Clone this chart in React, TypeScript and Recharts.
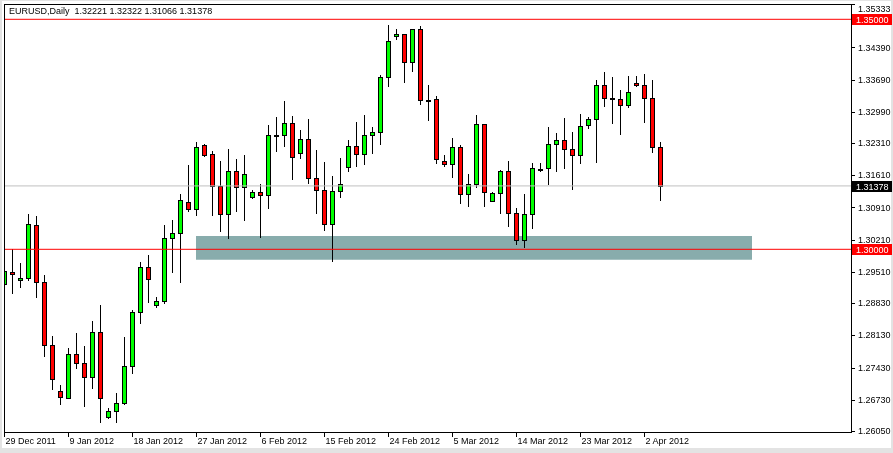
import React from 'react';
import { ComposedChart, Bar, XAxis, YAxis, ReferenceLine, ReferenceArea } from 'recharts';

const symbol = 'EURUSD,Daily';

// daily bars, 29 Dec 2011 .. 4 Apr 2012 (broker has Sunday bars)
const opens = [
  1.2924, 1.2951, 1.2933, 1.2937, 1.3052, 1.2930, 1.2791, 1.2693, 1.2677, 1.2772,
  1.2752, 1.2722, 1.2820, 1.2635, 1.2648, 1.2665, 1.2746, 1.2863, 1.2961, 1.2879,
  1.2887, 1.3024, 1.3035, 1.3103, 1.3087, 1.3226, 1.3207, 1.3137, 1.3076, 1.3170,
  1.3135, 1.3113, 1.3124, 1.3117, 1.3247, 1.3248, 1.3274, 1.3209, 1.3239, 1.3154,
  1.3128, 1.3054, 1.3126, 1.3180, 1.3224, 1.3207, 1.3248, 1.3254, 1.3374, 1.3463,
  1.3467, 1.3407, 1.3478, 1.3324, 1.3326, 1.3191, 1.3185, 1.3222, 1.3120, 1.3141,
  1.3272, 1.3104, 1.3122, 1.3170, 1.3078, 1.3020, 1.3076, 1.3173, 1.3176, 1.3228,
  1.3237, 1.3217, 1.3204, 1.3270, 1.3283, 1.3357, 1.3328, 1.3326, 1.3313, 1.3361,
  1.3357, 1.3328, 1.32221,
];
const highs = [
  1.2966, 1.3000, 1.2970, 1.3077, 1.3072, 1.2944, 1.2812, 1.2705, 1.2785, 1.2818,
  1.2790, 1.2844, 1.2879, 1.2655, 1.2688, 1.2809, 1.2867, 1.2972, 1.2988, 1.2896,
  1.3053, 1.3064, 1.3120, 1.3183, 1.3233, 1.3229, 1.3214, 1.3193, 1.3218, 1.3196,
  1.3205, 1.3130, 1.3141, 1.3270, 1.3288, 1.3322, 1.3289, 1.3259, 1.3283, 1.3215,
  1.3189, 1.3159, 1.3198, 1.3237, 1.3276, 1.3293, 1.3265, 1.3378, 1.3488, 1.3478,
  1.3468, 1.3479, 1.3485, 1.3357, 1.3333, 1.3204, 1.3241, 1.3227, 1.3164, 1.3292,
  1.3273, 1.3125, 1.3173, 1.3192, 1.3090, 1.3120, 1.3188, 1.3188, 1.3265, 1.3253,
  1.3285, 1.3255, 1.3295, 1.3287, 1.3367, 1.3385, 1.3374, 1.3346, 1.3377, 1.3377,
  1.3380, 1.3367, 1.32322,
];
const lows = [
  1.2857, 1.2904, 1.2917, 1.2934, 1.2897, 1.2769, 1.2697, 1.2664, 1.2676, 1.2743,
  1.2660, 1.2698, 1.2624, 1.2633, 1.2625, 1.2663, 1.2732, 1.2839, 1.2886, 1.2875,
  1.2883, 1.2951, 1.2930, 1.3084, 1.3075, 1.3203, 1.3075, 1.3040, 1.3025, 1.3083,
  1.3064, 1.3111, 1.3027, 1.3089, 1.3214, 1.3225, 1.3153, 1.3199, 1.3145, 1.3080,
  1.3043, 1.2974, 1.3114, 1.3171, 1.3182, 1.3186, 1.3210, 1.3230, 1.3356, 1.3457,
  1.3364, 1.3388, 1.3315, 1.3282, 1.3187, 1.3182, 1.3158, 1.3101, 1.3095, 1.3135,
  1.3095, 1.3104, 1.3078, 1.3051, 1.3011, 1.3004, 1.3047, 1.3171, 1.3141, 1.3171,
  1.3177, 1.3132, 1.3188, 1.3264, 1.3190, 1.3311, 1.3275, 1.3251, 1.3309, 1.3354,
  1.3277, 1.3212, 1.31066,
];
const closes = [
  1.2953, 1.2946, 1.2937, 1.3055, 1.2930, 1.2791, 1.2717, 1.2678, 1.2772, 1.2752,
  1.2722, 1.2820, 1.2676, 1.2648, 1.2665, 1.2746, 1.2863, 1.2961, 1.2935, 1.2888,
  1.3024, 1.3035, 1.3107, 1.3087, 1.3222, 1.3206, 1.3137, 1.3076, 1.3170, 1.3135,
  1.3163, 1.3124, 1.3117, 1.3248, 1.3249, 1.3274, 1.3201, 1.3239, 1.3154, 1.3128,
  1.3054, 1.3126, 1.3141, 1.3224, 1.3207, 1.3248, 1.3254, 1.3374, 1.3452, 1.3467,
  1.3407, 1.3478, 1.3324, 1.3325, 1.3196, 1.3185, 1.3222, 1.3120, 1.3141, 1.3272,
  1.3124, 1.3122, 1.3170, 1.3078, 1.3020, 1.3076, 1.3176, 1.3175, 1.3228, 1.3237,
  1.3217, 1.3204, 1.3267, 1.3283, 1.3357, 1.3328, 1.3326, 1.3313, 1.3343, 1.3357,
  1.3328, 1.3222, 1.31378,
];

const dateTickIdx = [0, 8, 16, 24, 32, 40, 48, 56, 64, 72, 80];
const dateTickLabels = [
  '29 Dec 2011', '9 Jan 2012', '18 Jan 2012', '27 Jan 2012', '6 Feb 2012', '15 Feb 2012',
  '24 Feb 2012', '5 Mar 2012', '14 Mar 2012', '23 Mar 2012', '2 Apr 2012',
];
const priceTicks = [
  1.35333, 1.3439, 1.3369, 1.3299, 1.3231, 1.3161, 1.3091, 1.3021, 1.2951, 1.2883,
  1.2813, 1.2743, 1.2673, 1.2605,
];
const levelPrices = [1.35, 1.3];
// support zone drawn on the chart (bar index span, price span)
const zoneBars = [23.875, 93.375];
const zonePrices = [1.29774, 1.30289];

const xDomain = [-0.125, 105.75];
const yDomain = [1.260283, 1.353326];

const FONT = '"Liberation Sans", Arial, sans-serif';

const candles = opens.map((o, i) => ({
  i,
  open: o,
  high: highs[i],
  low: lows[i],
  close: closes[i],
  range: [lows[i], highs[i]],
}));

const last = candles[candles.length - 1];
const headerText = `${symbol}  ${last.open.toFixed(5)} ${last.high.toFixed(5)} ${last.low.toFixed(5)} ${last.close.toFixed(5)}`;

function Candle(props: any) {
  const { x, y, width, height, payload } = props;
  if (x == null || y == null) return null;
  const top = Math.min(y, y + height);
  const h = Math.abs(height);
  const { open, close, high, low } = payload;
  const k = h / (high - low);
  const cx = Math.floor(x + width / 2);
  const yO = top + (high - open) * k;
  const yC = top + (high - close) * k;
  const bTop = Math.round(Math.min(yO, yC));
  const bBot = Math.round(Math.max(yO, yC));
  const up = close >= open;
  return (
    <g>
      <line
        x1={cx + 0.5}
        x2={cx + 0.5}
        y1={Math.round(top)}
        y2={Math.round(top + h) + 1}
        stroke="#000"
        strokeWidth={1}
      />
      <rect
        x={cx - 1.5}
        y={bTop + 0.5}
        width={4}
        height={Math.max(bBot - bTop, 1)}
        fill={up ? '#00ff00' : '#ff0000'}
        stroke="#000"
        strokeWidth={1}
      />
    </g>
  );
}

function DateTick(props: any) {
  const { x, y, payload } = props;
  const idx = dateTickIdx.indexOf(payload.value);
  const px = Math.round(x) - 0.5;
  return (
    <g>
      <line x1={px} x2={px} y1={y} y2={y + 5} stroke="#000" strokeWidth={1} />
      <text x={px + 1} y={y + 12} fontSize={9} fontFamily={FONT} fill="#000">
        {dateTickLabels[idx]}
      </text>
    </g>
  );
}

function PriceTick(props: any) {
  const { x, y, payload } = props;
  const ly = Math.round(y) + 0.5;
  // the top-of-window price sits just above the 1.35000 tag
  const ty = y < 10 ? 8.5 : y;
  return (
    <g>
      <line x1={x} x2={x + 4} y1={ly} y2={ly} stroke="#000" strokeWidth={1} />
      <text x={x + 7} y={ty} dy="0.35em" fontSize={9} fontFamily={FONT} fill="#000">
        {Number(payload.value).toFixed(5)}
      </text>
    </g>
  );
}

function PriceTag(props: any) {
  const { viewBox, bg, value } = props;
  if (!viewBox) return null;
  const right = viewBox.x + viewBox.width;
  const y = Math.round(viewBox.y);
  return (
    <g>
      <rect x={right + 1} y={y - 5} width={40} height={11} fill={bg} />
      <text x={right + 5} y={y + 0.5} dy="0.35em" fontSize={9} fontFamily={FONT} fill="#fff">
        {value.toFixed(5)}
      </text>
    </g>
  );
}

export default function App() {
  return (
    <div
      style={{
        position: 'absolute',
        left: 0,
        top: 0,
        width: 893,
        height: 453,
        background: '#e3e3e3',
        overflow: 'hidden',
      }}
    >
      <div
        style={{ position: 'absolute', left: 2, top: 1, width: 889, height: 447, background: '#fff' }}
      />
      <div style={{ position: 'absolute', left: 0, top: 0 }}>
        <ComposedChart
          width={893}
          height={453}
          data={candles}
          margin={{ top: 4, right: 0, bottom: 0, left: 4 }}
        >
          <XAxis
            dataKey="i"
            type="number"
            domain={xDomain}
            allowDataOverflow
            ticks={dateTickIdx}
            interval={0}
            height={21}
            axisLine={false}
            tickLine={false}
            tickSize={0}
            tickMargin={0}
            tick={<DateTick />}
          />
          <YAxis
            orientation="right"
            type="number"
            domain={yDomain}
            allowDataOverflow
            ticks={priceTicks}
            interval={0}
            width={42}
            axisLine={false}
            tickLine={false}
            tickSize={0}
            tickMargin={0}
            tick={<PriceTick />}
          />
          <Bar dataKey="range" barSize={5} shape={<Candle />} isAnimationActive={false} />
          <ReferenceArea
            x1={zoneBars[0]}
            x2={zoneBars[1]}
            y1={zonePrices[0]}
            y2={zonePrices[1]}
            fill="#88acac"
            fillOpacity={1}
            stroke="none"
            style={{ mixBlendMode: 'multiply' }}
          />
          <ReferenceLine
            y={last.close}
            stroke="#c0c0c0"
            strokeWidth={1}
            label={<PriceTag bg="#000" value={last.close} />}
          />
          {levelPrices.map((p) => (
            <ReferenceLine
              key={p}
              y={p}
              stroke="#ff0000"
              strokeWidth={1}
              label={<PriceTag bg="#ff0000" value={p} />}
            />
          ))}
        </ComposedChart>
      </div>
      <div
        style={{
          position: 'absolute',
          left: 4,
          top: 4,
          width: 848,
          height: 429,
          border: '1px solid #000',
          boxSizing: 'border-box',
          pointerEvents: 'none',
        }}
      />
      <div
        style={{
          position: 'absolute',
          left: 9,
          top: 6,
          fontFamily: FONT,
          fontSize: 9,
          lineHeight: '11px',
          color: '#000',
          whiteSpace: 'pre',
          background: '#fff',
        }}
      >
        {headerText}
      </div>
    </div>
  );
}
